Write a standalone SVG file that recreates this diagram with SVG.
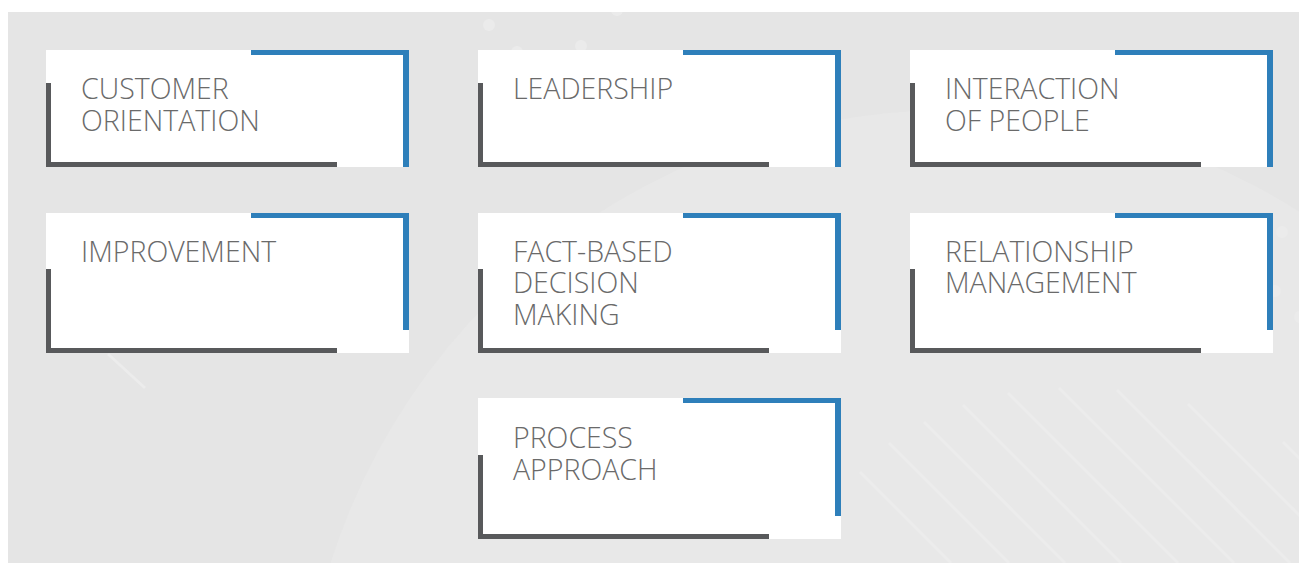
<svg xmlns="http://www.w3.org/2000/svg" width="1299" height="563" viewBox="0 0 1299 563">
  <style>
    .card { fill: #ffffff; }
    .blue { fill: #2e7fba; }
    .dark { fill: #58595b; }
    .lbl { font-family: "Open Sans", "Liberation Sans", sans-serif; font-weight: 300; font-size: 28.5px; fill: #6a6a6a; }
    .deco { stroke: #ececec; stroke-width: 3; fill: none; }
    .dot { fill: #ebebeb; }
  </style>
  <defs>
    <clipPath id="bgclip"><rect x="8" y="12" width="1291" height="551"/></clipPath>
  </defs>
  <g id="background">
    <rect x="8" y="12" width="1291" height="551" fill="#e5e5e5"/>
    <g clip-path="url(#bgclip)">
      <circle cx="950" cy="760" r="650" fill="#e8e8e8"/>
      <line class="deco" x1="108" y1="354" x2="145" y2="388"/>
      <line class="deco" x1="860" y1="472" x2="951" y2="563"/>
      <line class="deco" x1="889" y1="443" x2="1009" y2="563"/>
      <line class="deco" x1="924" y1="422" x2="1065" y2="563"/>
      <line class="deco" x1="963" y1="405" x2="1121" y2="563"/>
      <line class="deco" x1="1008" y1="393" x2="1178" y2="563"/>
      <line class="deco" x1="1059" y1="388" x2="1234" y2="563"/>
      <line class="deco" x1="1117" y1="390" x2="1290" y2="563"/>
      <line class="deco" x1="1188" y1="404" x2="1347" y2="563"/>
      <line class="deco" x1="1283" y1="442" x2="1404" y2="563"/>
      <circle class="dot" cx="489" cy="25" r="6"/>
      <circle class="dot" cx="617" cy="10" r="6"/>
      <circle class="dot" cx="581" cy="46" r="6"/>
      <circle class="dot" cx="517" cy="52" r="6"/>
      <circle class="dot" cx="1282" cy="232" r="6"/>
      <circle class="dot" cx="1275" cy="291" r="6"/>
      <circle class="dot" cx="1300" cy="317" r="6"/>
    </g>
  </g>

  <g id="node-customer-orientation">
    <rect class="card" x="46" y="50" width="363" height="117"/>
    <rect class="blue" x="251" y="50" width="158" height="5"/>
    <rect class="blue" x="403" y="50" width="6" height="117"/>
    <rect class="dark" x="46" y="83" width="5" height="84"/>
    <rect class="dark" x="46" y="162" width="291" height="5"/>
    <text class="lbl" x="81" y="99">CUSTOMER</text>
    <text class="lbl" x="81" y="130.5">ORIENTATION</text>
  </g>

  <g id="node-leadership">
    <rect class="card" x="478" y="50" width="363" height="117"/>
    <rect class="blue" x="683" y="50" width="158" height="5"/>
    <rect class="blue" x="835" y="50" width="6" height="117"/>
    <rect class="dark" x="478" y="83" width="5" height="84"/>
    <rect class="dark" x="478" y="162" width="291" height="5"/>
    <text class="lbl" x="513" y="99">LEADERSHIP</text>
  </g>

  <g id="node-interaction-of-people">
    <rect class="card" x="910" y="50" width="363" height="117"/>
    <rect class="blue" x="1115" y="50" width="158" height="5"/>
    <rect class="blue" x="1267" y="50" width="6" height="117"/>
    <rect class="dark" x="910" y="83" width="5" height="84"/>
    <rect class="dark" x="910" y="162" width="291" height="5"/>
    <text class="lbl" x="945" y="99">INTERACTION</text>
    <text class="lbl" x="945" y="130.5">OF PEOPLE</text>
  </g>

  <g id="node-improvement">
    <rect class="card" x="46" y="213" width="363" height="140"/>
    <rect class="blue" x="251" y="213" width="158" height="5"/>
    <rect class="blue" x="403" y="213" width="6" height="117"/>
    <rect class="dark" x="46" y="269" width="5" height="84"/>
    <rect class="dark" x="46" y="348" width="291" height="5"/>
    <text class="lbl" x="81" y="261.5">IMPROVEMENT</text>
  </g>

  <g id="node-fact-based-decision-making">
    <rect class="card" x="478" y="213" width="363" height="140"/>
    <rect class="blue" x="683" y="213" width="158" height="5"/>
    <rect class="blue" x="835" y="213" width="6" height="117"/>
    <rect class="dark" x="478" y="269" width="5" height="84"/>
    <rect class="dark" x="478" y="348" width="291" height="5"/>
    <text class="lbl" x="513" y="261.5">FACT-BASED</text>
    <text class="lbl" x="513" y="293.3">DECISION</text>
    <text class="lbl" x="513" y="325">MAKING</text>
  </g>

  <g id="node-relationship-management">
    <rect class="card" x="910" y="213" width="363" height="140"/>
    <rect class="blue" x="1115" y="213" width="158" height="5"/>
    <rect class="blue" x="1267" y="213" width="6" height="117"/>
    <rect class="dark" x="910" y="269" width="5" height="84"/>
    <rect class="dark" x="910" y="348" width="291" height="5"/>
    <text class="lbl" x="945" y="261.5">RELATIONSHIP</text>
    <text class="lbl" x="945" y="293.3">MANAGEMENT</text>
  </g>

  <g id="node-process-approach">
    <rect class="card" x="478" y="398" width="363" height="141"/>
    <rect class="blue" x="683" y="398" width="158" height="5"/>
    <rect class="blue" x="835" y="398" width="6" height="118"/>
    <rect class="dark" x="478" y="455" width="5" height="84"/>
    <rect class="dark" x="478" y="534" width="291" height="5"/>
    <text class="lbl" x="513" y="448.3">PROCESS</text>
    <text class="lbl" x="513" y="480">APPROACH</text>
  </g>

  <g id="connectors"/>
</svg>
